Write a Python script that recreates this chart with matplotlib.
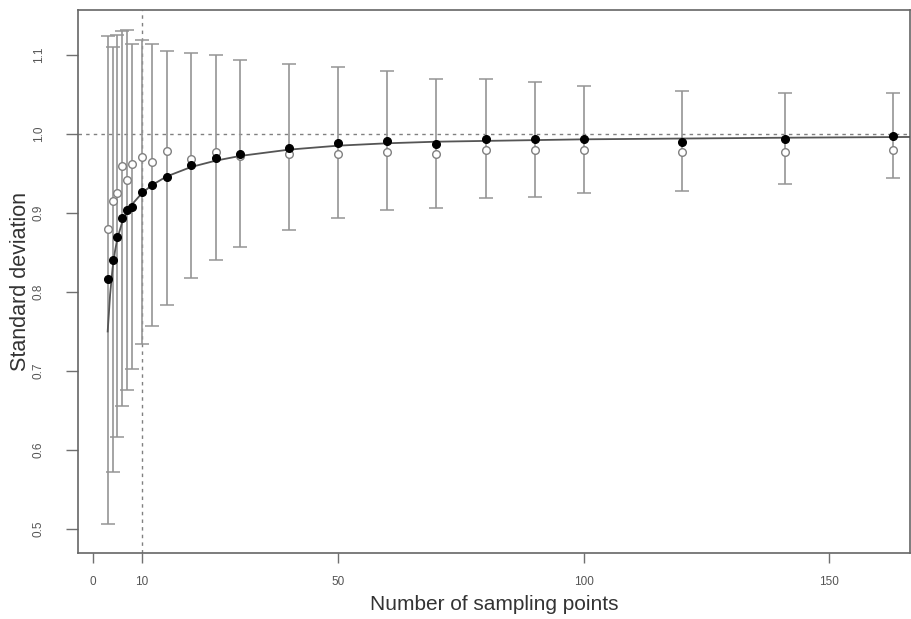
import numpy as np
import matplotlib
matplotlib.use("Agg")
import matplotlib.pyplot as plt

plt.rcParams['font.family'] = ['Liberation Sans', 'DejaVu Sans']

# Sample sizes (number of sampling points)
n_points = [3, 4, 5, 6, 7, 8, 10, 12, 15, 20, 25, 30, 40, 50, 60, 70, 80, 90, 100, 120, 141, 163]
# Filled dots
sd_mean = [0.816, 0.841, 0.870, 0.893, 0.904, 0.908, 0.926, 0.935, 0.945, 0.960, 0.970, 0.974,
           0.982, 0.988, 0.991, 0.987, 0.994, 0.993, 0.993, 0.990, 0.994, 0.997]
# Open circles
sd_median = [0.879, 0.915, 0.925, 0.959, 0.942, 0.962, 0.971, 0.964, 0.978, 0.968, 0.977, 0.972,
             0.974, 0.974, 0.977, 0.975, 0.979, 0.980, 0.980, 0.977, 0.977, 0.979]
# Error bar ends
sd_upper = [1.124, 1.110, 1.125, 1.130, 1.131, 1.114, 1.119, 1.113, 1.105, 1.102, 1.099, 1.093,
            1.088, 1.084, 1.080, 1.069, 1.069, 1.066, 1.061, 1.054, 1.052, 1.051]
sd_lower = [0.507, 0.572, 0.616, 0.656, 0.676, 0.702, 0.734, 0.757, 0.784, 0.818, 0.841, 0.857,
            0.878, 0.894, 0.903, 0.906, 0.919, 0.920, 0.925, 0.928, 0.937, 0.944]

# Fitted curve
curve_n = [3, 3.5, 4, 4.5, 5, 6, 7, 8, 10, 12, 15, 20, 25, 30, 40, 50, 60, 70, 80, 90, 100, 120, 140, 167]
curve_sd = [0.750, 0.797, 0.830, 0.852, 0.868, 0.889, 0.902, 0.911, 0.925, 0.935, 0.946, 0.958,
            0.966, 0.972, 0.980, 0.985, 0.988, 0.990, 0.991, 0.992, 0.993, 0.994, 0.995, 0.996]

xticks = [0, 10, 50, 100, 150]
yticks = [0.5, 0.6, 0.7, 0.8, 0.9, 1.0, 1.1]

n = np.array(n_points)
mean = np.array(sd_mean)
yerr = [mean - np.array(sd_lower), np.array(sd_upper) - mean]

fig = plt.figure(figsize=(9.11, 6.19), dpi=100)
ax = fig.add_axes([0.0856, 0.1074, 0.9134, 0.8764])

ax.axhline(1.0, color='#808080', ls=(0, (2.5, 3)), lw=1.0, zorder=1)
ax.axvline(10, color='#808080', ls=(0, (2.5, 3)), lw=1.0, zorder=1)

ax.errorbar(n, mean, yerr=yerr, fmt='none', ecolor='#959595', elinewidth=1.2,
            capsize=4.7, capthick=1.1, zorder=2)
ax.plot(curve_n, curve_sd, color='#555555', lw=1.3, zorder=3)
ax.plot(n, sd_median, 'o', ms=5.5, mfc='white', mec='#808080', mew=1.0, zorder=4)
ax.plot(n, mean, 'o', ms=5.5, color='black', zorder=5)

ax.set_xlim(-3.05, 166.5)
ax.set_ylim(0.4705, 1.1565)

ax.set_xticks(xticks)
ax.set_xticklabels([str(t) for t in xticks])
ax.set_yticks(yticks)
ax.set_yticklabels(['%.1f' % t for t in yticks], rotation=90, va='center')

ax.tick_params(axis='x', length=7, width=1.0, color='#707070', labelsize=8.5,
               labelcolor='#555555', pad=10)
ax.tick_params(axis='y', length=9, width=1.0, color='#707070', labelsize=8.5,
               labelcolor='#555555', pad=15)
for s in ax.spines.values():
    s.set_color('#666666')
    s.set_linewidth(1.2)

ax.set_xlabel('Number of sampling points', fontsize=15, color='#333333')
ax.set_ylabel('Standard deviation', fontsize=15.5, color='#333333')
ax.xaxis.set_label_coords(0.5, -0.078)
ax.yaxis.set_label_coords(-0.056, 0.5)

fig.savefig('out.png', dpi=100)
